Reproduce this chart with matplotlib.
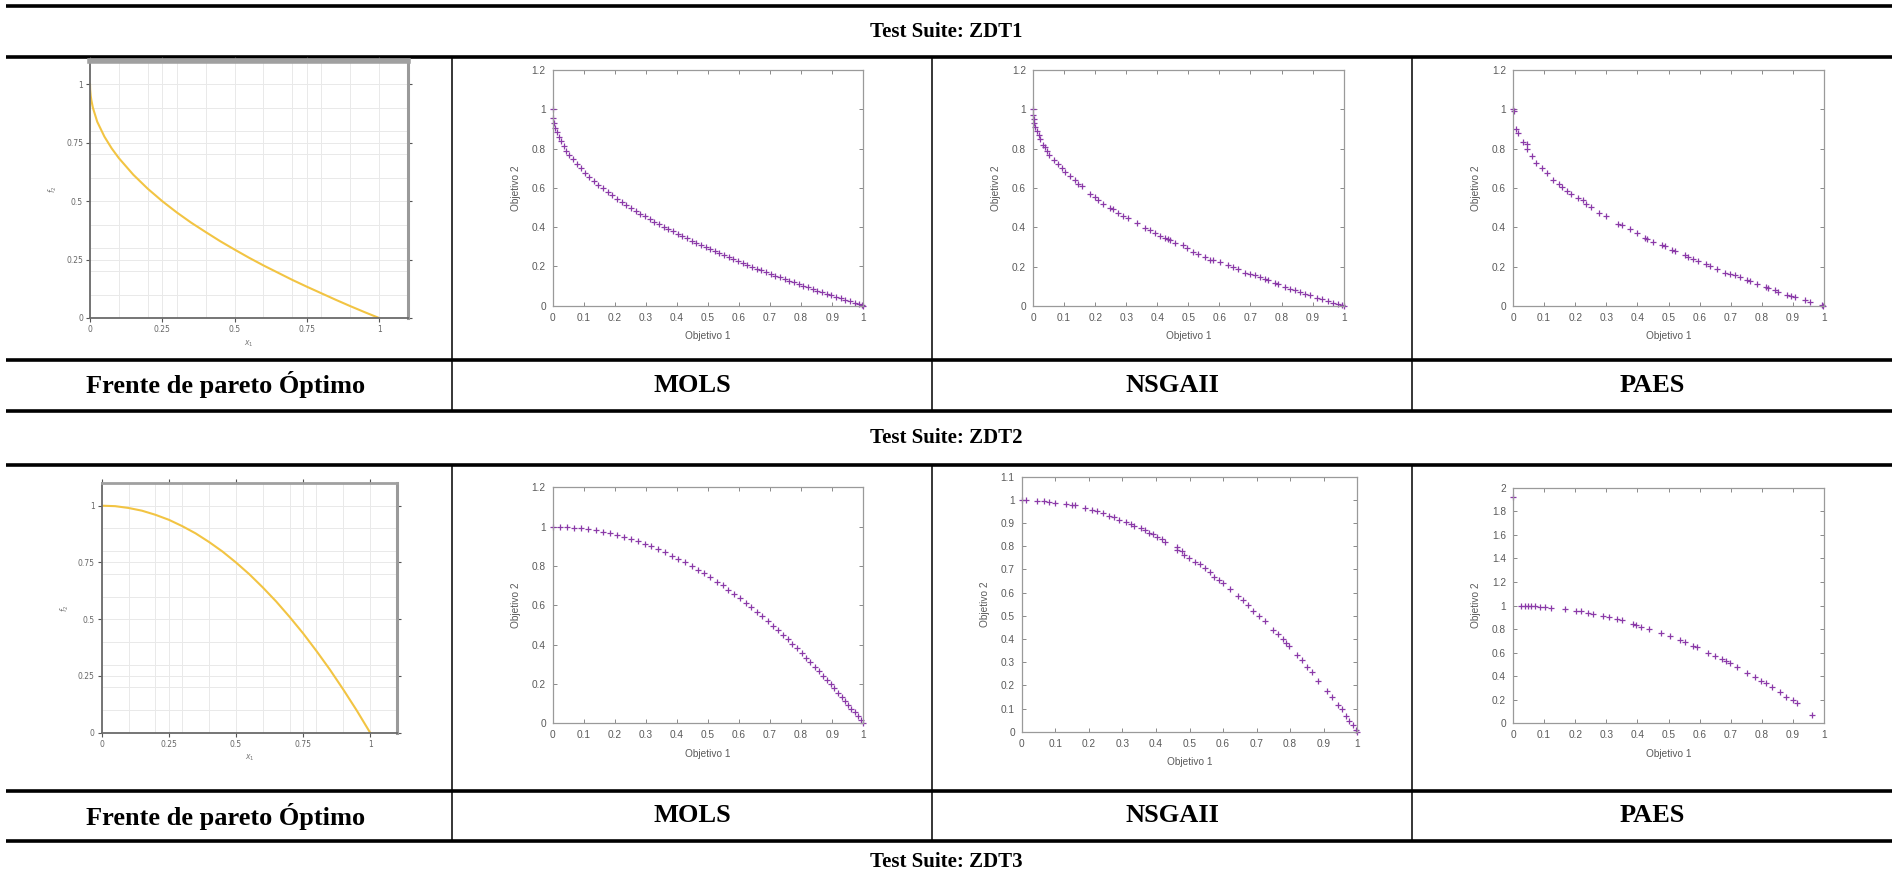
import matplotlib
matplotlib.use("Agg")
import matplotlib.pyplot as plt

W, H = 1892, 891

# ---- data ----
suites = ["Test Suite: ZDT1", "Test Suite: ZDT2", "Test Suite: ZDT3"]
columns = ["Frente de pareto Óptimo", "MOLS", "NSGAII", "PAES"]

# optimal fronts
opt1_x = [0, 0.0005, 0.0025, 0.005, 0.01, 0.025, 0.05, 0.075, 0.1, 0.15, 0.2, 0.25, 0.3, 0.35,
          0.4, 0.45, 0.5, 0.55, 0.6, 0.65, 0.7, 0.75, 0.8, 0.85, 0.9, 0.95, 1.0]
opt1_y = [1.0, 0.978, 0.95, 0.93, 0.9, 0.84, 0.776, 0.726, 0.684, 0.613, 0.553, 0.5, 0.452, 0.408,
          0.368, 0.329, 0.293, 0.258, 0.225, 0.194, 0.163, 0.134, 0.106, 0.078, 0.051, 0.025, 0.0]
opt2_x = [0, 0.05, 0.1, 0.15, 0.2, 0.25, 0.3, 0.35, 0.4, 0.45, 0.5, 0.55, 0.6, 0.65, 0.7,
          0.75, 0.8, 0.85, 0.9, 0.95, 1.0]
opt2_y = [1.0, 0.998, 0.99, 0.978, 0.96, 0.938, 0.91, 0.878, 0.84, 0.798, 0.75, 0.698, 0.64,
          0.578, 0.51, 0.438, 0.36, 0.278, 0.19, 0.098, 0.0]

mols1_x = [0, 0.002, 0.005, 0.009, 0.014, 0.02, 0.027, 0.035, 0.044, 0.054, 0.065, 0.077, 0.09,
           0.104, 0.118, 0.132, 0.147, 0.162, 0.177, 0.192, 0.207, 0.222, 0.237, 0.252, 0.267,
           0.282, 0.297, 0.312, 0.327, 0.342, 0.357, 0.372, 0.387, 0.402, 0.417, 0.432, 0.447,
           0.462, 0.477, 0.492, 0.507, 0.522, 0.537, 0.552, 0.567, 0.582, 0.597, 0.612, 0.627,
           0.642, 0.657, 0.672, 0.687, 0.702, 0.717, 0.732, 0.747, 0.762, 0.777, 0.792, 0.807,
           0.822, 0.837, 0.852, 0.867, 0.882, 0.897, 0.912, 0.927, 0.942, 0.957, 0.972, 0.985,
           0.995, 1.0]
mols1_y = [1.0, 0.955, 0.929, 0.905, 0.882, 0.859, 0.836, 0.813, 0.79, 0.768, 0.745, 0.723, 0.7,
           0.678, 0.656, 0.637, 0.617, 0.598, 0.579, 0.562, 0.545, 0.529, 0.513, 0.498, 0.483,
           0.469, 0.455, 0.441, 0.428, 0.415, 0.403, 0.39, 0.378, 0.366, 0.354, 0.343, 0.331,
           0.32, 0.309, 0.299, 0.288, 0.278, 0.267, 0.257, 0.247, 0.237, 0.227, 0.218, 0.208,
           0.199, 0.189, 0.18, 0.171, 0.162, 0.153, 0.144, 0.136, 0.127, 0.119, 0.11, 0.102,
           0.093, 0.085, 0.077, 0.069, 0.061, 0.053, 0.045, 0.037, 0.029, 0.022, 0.014, 0.008,
           0.003, 0.0]

nsga1_x = [0, 0, 0.002, 0.004, 0.008, 0.012, 0.018, 0.023, 0.033, 0.039, 0.046, 0.053, 0.069,
           0.082, 0.092, 0.103, 0.119, 0.135, 0.146, 0.157, 0.183, 0.2, 0.21, 0.226, 0.248, 0.256,
           0.275, 0.29, 0.307, 0.334, 0.36, 0.377, 0.393, 0.409, 0.425, 0.436, 0.441, 0.457,
           0.484, 0.495, 0.516, 0.532, 0.554, 0.57, 0.58, 0.602, 0.629, 0.645, 0.661, 0.682,
           0.698, 0.715, 0.731, 0.747, 0.757, 0.779, 0.79, 0.811, 0.827, 0.843, 0.859, 0.876,
           0.892, 0.913, 0.929, 0.951, 0.967, 0.983, 0.994, 1.0]
nsga1_y = [1.0, 0.97, 0.95, 0.93, 0.91, 0.89, 0.87, 0.85, 0.82, 0.81, 0.79, 0.77, 0.74, 0.72,
           0.7, 0.68, 0.66, 0.64, 0.62, 0.61, 0.57, 0.555, 0.54, 0.52, 0.5, 0.495, 0.473, 0.46,
           0.447, 0.424, 0.398, 0.385, 0.371, 0.356, 0.347, 0.342, 0.334, 0.32, 0.308, 0.295,
           0.275, 0.266, 0.249, 0.236, 0.232, 0.224, 0.207, 0.198, 0.19, 0.169, 0.164, 0.156,
           0.147, 0.139, 0.131, 0.117, 0.113, 0.097, 0.088, 0.08, 0.071, 0.063, 0.054, 0.042,
           0.037, 0.025, 0.017, 0.008, 0.003, 0.0]

paes1_x = [0, 0.003, 0.009, 0.017, 0.031, 0.044, 0.044, 0.06, 0.074, 0.092, 0.108, 0.128, 0.149,
           0.159, 0.173, 0.186, 0.21, 0.224, 0.235, 0.25, 0.277, 0.298, 0.339, 0.349, 0.376,
           0.398, 0.424, 0.43, 0.451, 0.478, 0.489, 0.51, 0.521, 0.553, 0.564, 0.578, 0.596,
           0.621, 0.633, 0.655, 0.682, 0.698, 0.714, 0.73, 0.751, 0.762, 0.784, 0.814, 0.821,
           0.842, 0.853, 0.88, 0.893, 0.907, 0.939, 0.955, 0.993, 0.998]
paes1_y = [1.0, 0.99, 0.898, 0.878, 0.835, 0.822, 0.796, 0.762, 0.728, 0.7, 0.674, 0.643, 0.618,
           0.606, 0.584, 0.572, 0.547, 0.538, 0.521, 0.501, 0.474, 0.457, 0.419, 0.411, 0.389,
           0.372, 0.346, 0.343, 0.326, 0.309, 0.306, 0.284, 0.28, 0.258, 0.25, 0.241, 0.228,
           0.212, 0.204, 0.187, 0.17, 0.165, 0.156, 0.148, 0.134, 0.127, 0.114, 0.097, 0.092,
           0.08, 0.071, 0.058, 0.051, 0.046, 0.029, 0.02, 0.003, 0.0]

mols2_x = [0, 0.023, 0.046, 0.069, 0.092, 0.115, 0.138, 0.161, 0.184, 0.207, 0.23, 0.252, 0.274,
           0.296, 0.318, 0.34, 0.362, 0.384, 0.405, 0.426, 0.447, 0.468, 0.488, 0.508, 0.528,
           0.547, 0.566, 0.585, 0.604, 0.622, 0.64, 0.658, 0.675, 0.692, 0.709, 0.725, 0.741,
           0.757, 0.772, 0.787, 0.802, 0.816, 0.83, 0.844, 0.857, 0.87, 0.883, 0.895, 0.907,
           0.919, 0.93, 0.941, 0.952, 0.962, 0.972, 0.982, 0.991, 1.0]
mols2_y = [1.0, 1.0, 0.998, 0.995, 0.992, 0.987, 0.981, 0.974, 0.966, 0.957, 0.947, 0.936, 0.925,
           0.912, 0.899, 0.884, 0.869, 0.853, 0.836, 0.819, 0.8, 0.781, 0.762, 0.742, 0.721,
           0.701, 0.68, 0.658, 0.635, 0.613, 0.59, 0.567, 0.544, 0.521, 0.497, 0.474, 0.451,
           0.427, 0.404, 0.381, 0.357, 0.334, 0.311, 0.288, 0.266, 0.243, 0.22, 0.199, 0.177,
           0.155, 0.135, 0.115, 0.094, 0.075, 0.055, 0.036, 0.018, 0.0]

nsga2_x = [0, 0.012, 0.047, 0.067, 0.082, 0.099, 0.131, 0.149, 0.159, 0.189, 0.209, 0.223, 0.243,
           0.26, 0.276, 0.291, 0.311, 0.326, 0.335, 0.355, 0.368, 0.38, 0.39, 0.402, 0.417,
           0.427, 0.462, 0.464, 0.477, 0.484, 0.499, 0.516, 0.531, 0.546, 0.561, 0.573, 0.589,
           0.599, 0.621, 0.645, 0.66, 0.675, 0.69, 0.708, 0.725, 0.75, 0.765, 0.78, 0.789, 0.796,
           0.819, 0.834, 0.849, 0.864, 0.884, 0.909, 0.924, 0.943, 0.953, 0.966, 0.976, 0.986,
           0.996, 1.0]
nsga2_y = [1.0, 1.0, 0.997, 0.994, 0.991, 0.988, 0.984, 0.978, 0.977, 0.964, 0.957, 0.95, 0.942,
           0.931, 0.925, 0.914, 0.906, 0.895, 0.888, 0.878, 0.868, 0.859, 0.852, 0.842, 0.83,
           0.82, 0.796, 0.784, 0.781, 0.763, 0.748, 0.734, 0.722, 0.705, 0.688, 0.669, 0.655,
           0.643, 0.616, 0.586, 0.568, 0.547, 0.522, 0.501, 0.479, 0.439, 0.42, 0.4, 0.384,
           0.371, 0.331, 0.309, 0.281, 0.259, 0.219, 0.177, 0.151, 0.115, 0.096, 0.068, 0.047,
           0.029, 0.007, 0.0]

paes2_x = [0, 0.027, 0.037, 0.048, 0.059, 0.07, 0.086, 0.104, 0.123, 0.168, 0.204, 0.22, 0.241,
           0.258, 0.29, 0.309, 0.333, 0.352, 0.386, 0.395, 0.413, 0.438, 0.477, 0.505, 0.536,
           0.552, 0.579, 0.592, 0.627, 0.649, 0.671, 0.684, 0.697, 0.721, 0.754, 0.778, 0.799,
           0.812, 0.834, 0.858, 0.878, 0.899, 0.912, 0.962]
paes2_y = [1.92, 0.997, 0.997, 0.997, 0.997, 0.994, 0.99, 0.985, 0.98, 0.969, 0.955, 0.952, 0.94,
           0.929, 0.912, 0.904, 0.887, 0.873, 0.844, 0.835, 0.82, 0.8, 0.764, 0.744, 0.707,
           0.694, 0.657, 0.645, 0.594, 0.571, 0.543, 0.529, 0.515, 0.475, 0.424, 0.39, 0.362,
           0.345, 0.306, 0.263, 0.226, 0.198, 0.17, 0.071]

purple = "#8b3aa8"
gold = "#f2c443"


def rect(l, t, r, b):
    return [l / W, 1 - b / H, (r - l) / W, (b - t) / H]


def optimal_axes(box, xs, ys, top_lw):
    ax = fig.add_axes(rect(*box))
    ax.plot(xs, ys, color=gold, lw=1.5)
    ax.set_xlim(0, 1.1)
    ax.set_ylim(0, 1.1)
    ax.set_xticks([0, 0.25, 0.5, 0.75, 1])
    ax.set_xticklabels(["0", "0.25", "0.5", "0.75", "1"])
    ax.set_yticks([0, 0.25, 0.5, 0.75, 1])
    ax.set_yticklabels(["0", "0.25", "0.5", "0.75", "1"])
    ax.set_xticks([i / 10 for i in range(11)], minor=True)
    ax.set_yticks([i / 10 for i in range(11)], minor=True)
    ax.grid(True, which="both", color="#e9e9e9", lw=0.7)
    ax.tick_params(which="minor", length=0)
    ax.tick_params(which="major", direction="out", length=3, width=0.8, color="#555",
                   labelsize=5.5, labelcolor="#666", pad=2, top=True, right=True)
    for side in ["left", "bottom"]:
        ax.spines[side].set_color("#6a6a6a")
        ax.spines[side].set_linewidth(1.3)
    ax.spines["right"].set_color("#9a9a9a")
    ax.spines["right"].set_linewidth(2.2)
    ax.spines["top"].set_color("#a0a0a0")
    ax.spines["top"].set_linewidth(top_lw)
    ax.set_xlabel("$x_1$", fontsize=5.5, color="#777", labelpad=3)
    ax.set_ylabel("$f_2$", fontsize=5.5, color="#777", labelpad=5)
    return ax


def gnuplot_axes(box, xs, ys, ymax, ystep):
    ax = fig.add_axes(rect(*box))
    ax.plot(xs, ys, ls="none", marker="+", ms=4.2, mew=0.9, color=purple, clip_on=False)
    ax.set_xlim(0, 1)
    ax.set_ylim(0, ymax)
    ax.set_xticks([i / 10 for i in range(11)])
    ax.set_xticklabels(["0"] + ["0.%d" % i for i in range(1, 10)] + ["1"])
    n = int(round(ymax / ystep))
    yt = [round(i * ystep, 2) for i in range(n + 1)]
    ax.set_yticks(yt)
    ax.set_yticklabels(["%g" % v for v in yt])
    ax.tick_params(direction="in", length=3, width=0.7, color="#8a8a8a", labelsize=7.3,
                   labelcolor="#5a5a5a", pad=5, top=True, right=True)
    for lab in ax.get_xticklabels() + ax.get_yticklabels():
        lab.set_family("Liberation Sans")
    for s in ax.spines.values():
        s.set_color("#9a9a9a")
        s.set_linewidth(0.9)
    ax.set_xlabel("Objetivo 1", fontsize=7.3, color="#5a5a5a", labelpad=6, family="Liberation Sans")
    ax.set_ylabel("Objetivo 2", fontsize=7.3, color="#5a5a5a", labelpad=8, family="Liberation Sans")
    return ax


fig = plt.figure(figsize=(W / 100, H / 100), dpi=100)

# table drawn in pixel coordinates
tab = fig.add_axes([0, 0, 1, 1])
tab.set_xlim(0, W)
tab.set_ylim(H, 0)
tab.axis("off")

for y in [6, 57, 360, 411, 465, 791, 841]:
    tab.plot([6, W], [y, y], color="black", lw=2.6, solid_capstyle="butt")
for x in [452, 932, 1412]:
    tab.plot([x, x], [57, 411], color="black", lw=1.1)
    tab.plot([x, x], [465, 841], color="black", lw=1.1)

serif = dict(family="Liberation Serif", weight="bold", ha="center", va="center")
for y, s in zip([32, 438, 862], suites):
    tab.text(W / 2, y, s, fontsize=15, **serif)
col_centers = [226, 692, 1172, 1652]
for yc in [385, 816]:
    for xc, s in zip(col_centers, columns):
        tab.text(xc, yc, s, fontsize=19, **serif)

# row 1: ZDT1
optimal_axes((90, 61, 408, 318), opt1_x, opt1_y, 4)
gnuplot_axes((552.7, 70, 863.3, 305.7), mols1_x, mols1_y, 1.2, 0.2)
gnuplot_axes((1033, 70, 1343.7, 306), nsga1_x, nsga1_y, 1.2, 0.2)
gnuplot_axes((1513, 70, 1824, 306), paes1_x, paes1_y, 1.2, 0.2)

# row 2: ZDT2
optimal_axes((101.7, 483, 397, 732.7), opt2_x, opt2_y, 2)
gnuplot_axes((552.7, 487.3, 863.3, 723.3), mols2_x, mols2_y, 1.2, 0.2)
gnuplot_axes((1021.7, 476.7, 1357.3, 731.7), nsga2_x, nsga2_y, 1.1, 0.1)
gnuplot_axes((1513, 487.7, 1824, 723.3), paes2_x, paes2_y, 2.0, 0.2)

fig.savefig("out.png", dpi=100, facecolor="white")
